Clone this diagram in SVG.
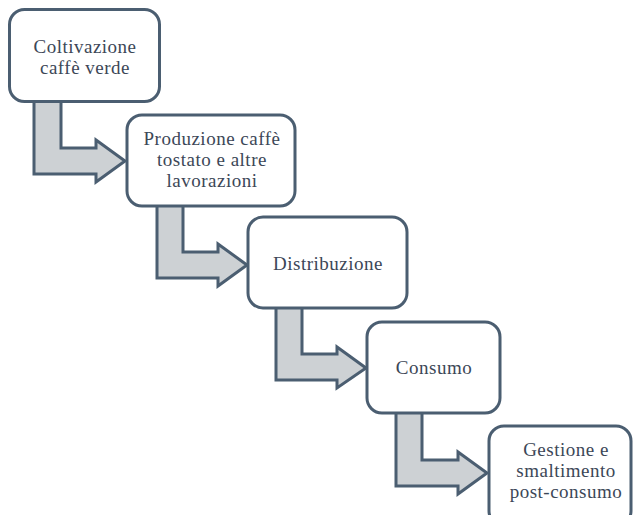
<svg xmlns="http://www.w3.org/2000/svg" width="633" height="515" viewBox="0 0 633 515">
<style>
.box{fill:#ffffff;stroke:#4b5e71;stroke-width:3}
.arr{fill:#cdd1d4;stroke:#4b5e71;stroke-width:3;stroke-linejoin:miter}
.t{font-family:"Liberation Serif","DejaVu Serif",serif;font-size:19px;letter-spacing:0.5px;fill:#3c4757;text-anchor:middle}
</style>
<rect width="633" height="515" fill="#ffffff"/>
<g id="connectors">
<polygon class="arr" points="34,100 61,100 61,148 96,148 96,140 125,161 96,182 96,174 34,174"/>
<polygon class="arr" points="157,204 183,204 183,252 218,252 218,244 247,265 218,286 218,278 157,278"/>
<polygon class="arr" points="276,306 302,306 302,354 337,354 337,347 366,368 337,388 337,380 276,380"/>
<polygon class="arr" points="396,411 422,411 422,460 458,460 458,452 487,473 458,494 458,486 396,486"/>
</g>
<g id="n1">
<rect class="box" x="9.5" y="9.5" width="150" height="92" rx="15"/>
<text class="t" x="85" y="53">Coltivazione</text>
<text class="t" x="85" y="74">caffè verde</text>
</g>
<g id="n2">
<rect class="box" x="127" y="115" width="168" height="91" rx="15"/>
<text class="t" x="212" y="145">Produzione caffè</text>
<text class="t" x="212" y="166">tostato e altre</text>
<text class="t" x="212" y="187">lavorazioni</text>
</g>
<g id="n3">
<rect class="box" x="248" y="217" width="159" height="91" rx="15"/>
<text class="t" x="328" y="270">Distribuzione</text>
</g>
<g id="n4">
<rect class="box" x="367" y="322" width="133" height="91" rx="15"/>
<text class="t" x="434" y="374">Consumo</text>
</g>
<g id="n5">
<rect class="box" x="489" y="426" width="142" height="100" rx="15"/>
<text class="t" x="566" y="456">Gestione e</text>
<text class="t" x="566" y="477">smaltimento</text>
<text class="t" x="566" y="498">post-consumo</text>
</g>
</svg>
